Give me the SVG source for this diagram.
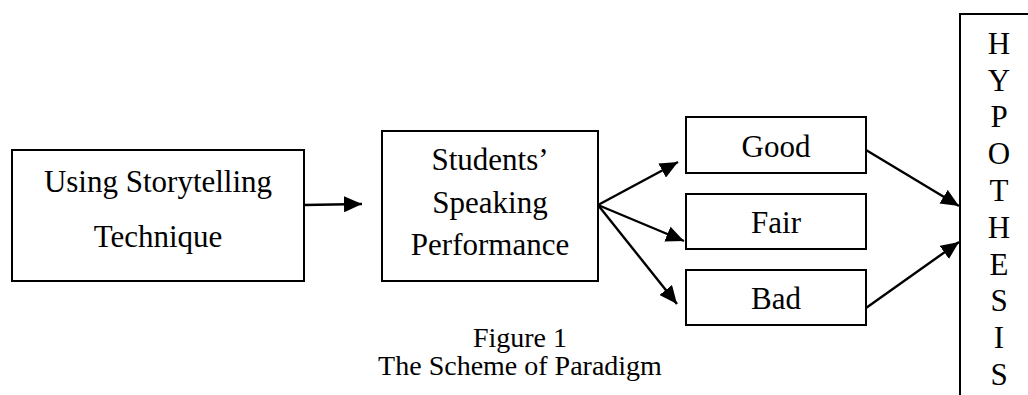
<svg xmlns="http://www.w3.org/2000/svg" width="1028" height="395" viewBox="0 0 1028 395">
<style>
.box{fill:#fff;stroke:#000;stroke-width:2}
text{font-family:'Liberation Serif','Times New Roman',Times,serif;fill:#000;text-anchor:middle}
.t{font-size:31px}
.cap{font-size:28px}
.c{stroke:#000;stroke-width:2.4;fill:none;marker-end:url(#ah)}
</style>
<defs>
<marker id="ah" markerUnits="userSpaceOnUse" markerWidth="20" markerHeight="16" refX="18" refY="8" orient="auto">
<path d="M0,0 L18,8 L0,16 Z" fill="#000"/>
</marker>
</defs>
<rect width="1028" height="395" fill="#fff"/>
<g id="n1">
<rect class="box" x="12" y="150" width="292" height="131"/>
<text class="t" x="158" y="192">Using Storytelling</text>
<text class="t" x="158" y="247">Technique</text>
</g>
<g id="n2">
<rect class="box" x="382" y="131" width="216" height="150"/>
<text class="t" x="490" y="170">Students’</text>
<text class="t" x="490" y="213">Speaking</text>
<text class="t" x="490" y="255">Performance</text>
</g>
<g id="good">
<rect class="box" x="686" y="117" width="180" height="56"/>
<text class="t" x="776" y="157">Good</text>
</g>
<g id="fair">
<rect class="box" x="686" y="194" width="180" height="55"/>
<text class="t" x="776" y="233">Fair</text>
</g>
<g id="bad">
<rect class="box" x="686" y="270" width="180" height="55"/>
<text class="t" x="776" y="309">Bad</text>
</g>
<g id="hyp">
<rect class="box" x="960" y="14" width="100" height="400"/>
<text class="t" x="999" y="54">H</text>
<text class="t" x="999" y="91">Y</text>
<text class="t" x="999" y="127">P</text>
<text class="t" x="999" y="164">O</text>
<text class="t" x="999" y="201">T</text>
<text class="t" x="999" y="238">H</text>
<text class="t" x="999" y="275">E</text>
<text class="t" x="999" y="311">S</text>
<text class="t" x="999" y="348">I</text>
<text class="t" x="999" y="385">S</text>
</g>
<g id="connectors">
<line class="c" x1="304" y1="205" x2="362" y2="204"/>
<line class="c" x1="598" y1="205" x2="678" y2="162"/>
<line class="c" x1="598" y1="205" x2="684" y2="241"/>
<line class="c" x1="598" y1="205" x2="677" y2="304"/>
<line class="c" x1="866" y1="150" x2="959" y2="206"/>
<line class="c" x1="866" y1="308" x2="959" y2="242"/>
</g>
<g id="caption">
<text class="cap" x="520" y="347">Figure 1</text>
<text class="cap" x="520" y="375">The Scheme of Paradigm</text>
</g>
</svg>
